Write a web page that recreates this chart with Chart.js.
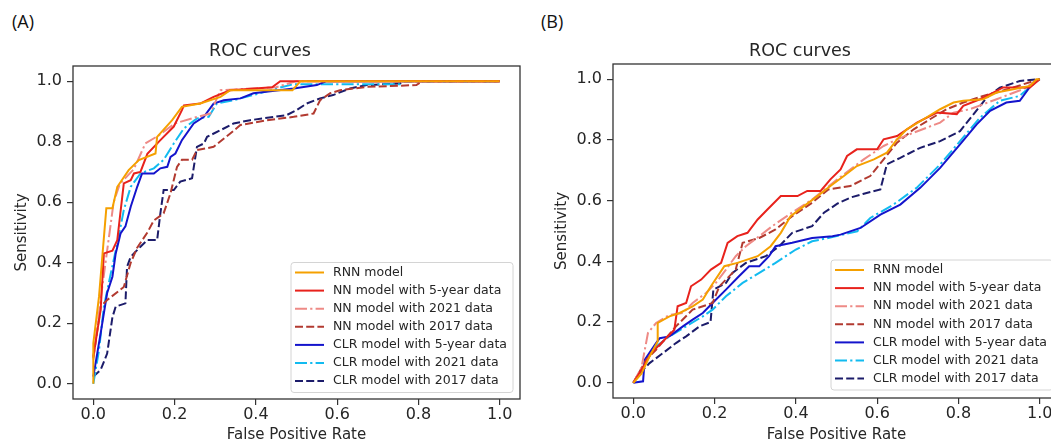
<!DOCTYPE html>
<html>
<head>
<meta charset="utf-8">
<script src="https://cdn.jsdelivr.net/npm/chart.js@4.4.1/dist/chart.umd.min.js"></script>
<style>
  html, body { margin: 0; padding: 0; background: #fff; overflow: hidden; width: 1051px; height: 441px; }
  canvas { position: absolute; top: 0; }
  #rocA { left: 0; }
  #rocB { left: 540px; }
  .tag { position: absolute; top: 9px; font-family: "Open Sans", sans-serif; font-size: 18px; color: #111; }
</style>
</head>
<body>
<div class="tag" style="left:12px">(A)</div>
<div class="tag" style="left:541px">(B)</div>
<canvas id="rocA" width="530" height="450"></canvas>
<canvas id="rocB" width="530" height="450"></canvas>
<script>
// ---- data ----
var seriesNames = [
  "RNN model",
  "NN model with 5-year data",
  "NN model with 2021 data",
  "NN model with 2017 data",
  "CLR model with 5-year data",
  "CLR model with 2021 data",
  "CLR model with 2017 data"
];
var tickVals = [0, 0.2, 0.4, 0.6, 0.8, 1.0];
var tickLabels = ["0.0", "0.2", "0.4", "0.6", "0.8", "1.0"];

// panel (A)
var a_rnn_x = [0, 0, 0.014, 0.032, 0.047, 0.059, 0.087, 0.112, 0.153, 0.157, 0.194, 0.218, 0.263, 0.313, 0.337, 0.49, 0.51, 1.0];
var a_rnn_y = [0, 0.134, 0.288, 0.58, 0.58, 0.651, 0.706, 0.739, 0.761, 0.816, 0.871, 0.915, 0.926, 0.948, 0.97, 0.97, 1.0, 1.0];
var a_nn5_x = [0, 0.018, 0.026, 0.047, 0.059, 0.075, 0.092, 0.1, 0.116, 0.133, 0.165, 0.198, 0.218, 0.223, 0.263, 0.296, 0.337, 0.44, 0.46, 1.0];
var a_nn5_y = [0.09, 0.244, 0.431, 0.44, 0.475, 0.662, 0.673, 0.695, 0.70, 0.76, 0.805, 0.85, 0.904, 0.92, 0.926, 0.948, 0.97, 0.98, 1.0, 1.0];
var a_nn21_x = [0, 0.02, 0.035, 0.05, 0.065, 0.1, 0.128, 0.16, 0.2, 0.25, 0.288, 0.313, 0.45, 0.5, 1.0];
var a_nn21_y = [0.08, 0.3, 0.45, 0.6, 0.66, 0.71, 0.794, 0.82, 0.86, 0.88, 0.893, 0.97, 0.98, 1.0, 1.0];
var a_nn17_x = [0, 0.018, 0.034, 0.075, 0.092, 0.108, 0.133, 0.149, 0.173, 0.19, 0.206, 0.218, 0.243, 0.255, 0.296, 0.337, 0.362, 0.427, 0.493, 0.542, 0.558, 0.583, 0.607, 0.673, 0.795, 0.81, 1.0];
var a_nn17_y = [0.085, 0.255, 0.277, 0.32, 0.40, 0.45, 0.50, 0.54, 0.563, 0.63, 0.717, 0.74, 0.74, 0.772, 0.783, 0.827, 0.855, 0.871, 0.882, 0.893, 0.937, 0.96, 0.97, 0.981, 0.987, 1.0, 1.0];
var a_clr5_x = [0, 0.018, 0.034, 0.047, 0.055, 0.067, 0.079, 0.092, 0.108, 0.12, 0.149, 0.165, 0.182, 0.19, 0.202, 0.218, 0.247, 0.272, 0.296, 0.321, 0.362, 0.394, 0.493, 0.55, 0.574, 1.0];
var a_clr5_y = [0.024, 0.167, 0.3, 0.354, 0.43, 0.497, 0.52, 0.585, 0.651, 0.695, 0.695, 0.712, 0.717, 0.75, 0.761, 0.805, 0.86, 0.882, 0.926, 0.937, 0.943, 0.96, 0.976, 0.987, 1.0, 1.0];
var a_clr21_x = [0, 0.014, 0.026, 0.043, 0.059, 0.075, 0.092, 0.116, 0.149, 0.173, 0.198, 0.223, 0.255, 0.284, 0.304, 0.345, 0.41, 0.452, 0.493, 0.755, 0.76, 1.0];
var a_clr21_y = [0, 0.112, 0.255, 0.365, 0.464, 0.574, 0.651, 0.695, 0.712, 0.74, 0.794, 0.844, 0.877, 0.882, 0.926, 0.937, 0.96, 0.976, 0.99, 0.99, 1.0, 1.0];
var a_clr17_x = [0, 0.018, 0.034, 0.047, 0.055, 0.079, 0.083, 0.092, 0.116, 0.133, 0.157, 0.165, 0.173, 0.198, 0.214, 0.243, 0.255, 0.272, 0.28, 0.313, 0.345, 0.386, 0.476, 0.5, 0.525, 0.558, 0.59, 0.632, 0.673, 0.754, 0.767, 1.0];
var a_clr17_y = [0.024, 0.046, 0.1, 0.22, 0.255, 0.266, 0.387, 0.42, 0.453, 0.475, 0.475, 0.563, 0.64, 0.64, 0.668, 0.679, 0.783, 0.794, 0.816, 0.838, 0.86, 0.871, 0.888, 0.904, 0.926, 0.943, 0.954, 0.976, 0.987, 0.992, 1.0, 1.0];

// panel (B)
var b_rnn_x = [0, 0.02, 0.04, 0.06, 0.06, 0.089, 0.114, 0.146, 0.171, 0.191, 0.224, 0.256, 0.306, 0.338, 0.363, 0.387, 0.42, 0.453, 0.485, 0.518, 0.55, 0.592, 0.624, 0.649, 0.673, 0.714, 0.755, 0.788, 0.812, 0.861, 0.894, 0.935, 0.976, 0.992, 1.0];
var b_rnn_y = [0, 0.03, 0.087, 0.136, 0.197, 0.219, 0.23, 0.252, 0.274, 0.318, 0.384, 0.395, 0.417, 0.45, 0.494, 0.549, 0.582, 0.615, 0.648, 0.681, 0.714, 0.736, 0.758, 0.802, 0.835, 0.868, 0.901, 0.923, 0.929, 0.934, 0.956, 0.967, 0.978, 1.0, 1.0];
var b_nn5_x = [0, 0.02, 0.044, 0.077, 0.101, 0.109, 0.13, 0.142, 0.167, 0.191, 0.216, 0.232, 0.256, 0.281, 0.306, 0.33, 0.363, 0.404, 0.428, 0.461, 0.485, 0.51, 0.526, 0.55, 0.6, 0.616, 0.649, 0.698, 0.747, 0.796, 0.812, 0.853, 0.886, 0.91, 0.976, 1.0];
var b_nn5_y = [0, 0.043, 0.098, 0.142, 0.175, 0.252, 0.263, 0.318, 0.34, 0.373, 0.395, 0.461, 0.483, 0.494, 0.538, 0.571, 0.615, 0.615, 0.632, 0.632, 0.67, 0.703, 0.747, 0.769, 0.769, 0.802, 0.813, 0.857, 0.89, 0.885, 0.912, 0.934, 0.956, 0.973, 0.973, 1.0];
var b_nn21_x = [0, 0.02, 0.036, 0.056, 0.089, 0.122, 0.146, 0.179, 0.203, 0.228, 0.252, 0.277, 0.31, 0.342, 0.391, 0.44, 0.502, 0.567, 0.616, 0.649, 0.69, 0.755, 0.788, 0.828, 0.894, 0.959, 1.0];
var b_nn21_y = [0, 0.05, 0.164, 0.197, 0.224, 0.23, 0.263, 0.296, 0.329, 0.373, 0.417, 0.45, 0.483, 0.516, 0.561, 0.604, 0.67, 0.736, 0.78, 0.802, 0.824, 0.857, 0.89, 0.901, 0.934, 0.967, 1.0];
var b_nn17_x = [0, 0.032, 0.056, 0.105, 0.146, 0.195, 0.212, 0.252, 0.269, 0.31, 0.35, 0.391, 0.44, 0.48, 0.534, 0.583, 0.616, 0.649, 0.69, 0.73, 0.771, 0.812, 0.861, 0.894, 0.935, 1.0];
var b_nn17_y = [0, 0.076, 0.109, 0.186, 0.241, 0.263, 0.318, 0.373, 0.461, 0.477, 0.505, 0.549, 0.593, 0.637, 0.648, 0.681, 0.736, 0.791, 0.835, 0.868, 0.901, 0.923, 0.945, 0.956, 0.973, 1.0];
var b_clr5_x = [0, 0.024, 0.028, 0.056, 0.065, 0.089, 0.122, 0.146, 0.171, 0.195, 0.228, 0.26, 0.285, 0.31, 0.334, 0.35, 0.391, 0.44, 0.49, 0.51, 0.559, 0.608, 0.657, 0.706, 0.755, 0.804, 0.845, 0.878, 0.918, 0.951, 0.984, 1.0];
var b_clr5_y = [0, 0.005, 0.076, 0.131, 0.147, 0.153, 0.186, 0.208, 0.23, 0.263, 0.307, 0.351, 0.384, 0.384, 0.417, 0.45, 0.461, 0.477, 0.483, 0.488, 0.51, 0.554, 0.587, 0.642, 0.708, 0.785, 0.851, 0.896, 0.923, 0.929, 0.989, 1.0];
var b_clr21_x = [0, 0.028, 0.056, 0.089, 0.13, 0.171, 0.195, 0.228, 0.269, 0.31, 0.35, 0.4, 0.44, 0.49, 0.551, 0.583, 0.64, 0.697, 0.755, 0.804, 0.853, 0.902, 0.951, 0.984, 1.0];
var b_clr21_y = [0, 0.065, 0.12, 0.153, 0.186, 0.219, 0.241, 0.285, 0.329, 0.362, 0.395, 0.439, 0.466, 0.48, 0.499, 0.543, 0.587, 0.642, 0.719, 0.796, 0.873, 0.929, 0.945, 0.983, 1.0];
var b_clr17_x = [0, 0.016, 0.04, 0.073, 0.105, 0.13, 0.163, 0.19, 0.197, 0.228, 0.244, 0.277, 0.326, 0.359, 0.391, 0.44, 0.469, 0.502, 0.534, 0.565, 0.608, 0.624, 0.657, 0.706, 0.755, 0.804, 0.837, 0.87, 0.902, 0.951, 1.0];
var b_clr17_y = [0, 0.032, 0.065, 0.098, 0.131, 0.153, 0.186, 0.2, 0.307, 0.329, 0.362, 0.395, 0.417, 0.45, 0.494, 0.516, 0.56, 0.59, 0.61, 0.622, 0.637, 0.72, 0.741, 0.774, 0.796, 0.829, 0.884, 0.94, 0.972, 0.994, 1.0];

// ---- styles ----
var lineColors = ["#F5A000", "#E8221C", "#EE8A86", "#B23A30", "#1414CC", "#12BBF0", "#1C1C6A"];
var lineDashes = [[], [], [12, 3.2, 2.2, 3.2], [8, 3.2], [], [12, 3.2, 2.2, 3.2], [8, 3.2]];
var FONT = "'DejaVu Sans', sans-serif";
var TEXT = "#262626";

function pts(xs, ys) {
  return xs.map(function (x, i) { return { x: x, y: ys[i] }; });
}

// box round the plot area
var frame = {
  id: "frame",
  afterDraw: function (chart) {
    var ctx = chart.ctx, a = chart.chartArea;
    ctx.save();
    ctx.strokeStyle = "#333";
    ctx.lineWidth = 1.3;
    ctx.strokeRect(a.left, a.top, a.right - a.left, a.bottom - a.top);
    ctx.restore();
  }
};

// legend in the lower right corner, like matplotlib's
var cornerLegend = {
  id: "cornerLegend",
  afterDatasetsDraw: function (chart, args, opts) {
    var ctx = chart.ctx, a = chart.chartArea;
    var w = 222, h = 130;
    var x0 = a.right - opts.gapRight - w, y0 = a.bottom - opts.gapBottom - h;
    ctx.save();
    ctx.beginPath();
    ctx.roundRect(x0, y0, w, h, 3);
    ctx.fillStyle = "rgba(255,255,255,0.85)";
    ctx.fill();
    ctx.strokeStyle = "#d4d4d4";
    ctx.lineWidth = 1;
    ctx.stroke();
    ctx.font = "12.5px " + FONT;
    ctx.textBaseline = "middle";
    chart.data.datasets.forEach(function (ds, i) {
      var yy = y0 + 10 + i * 18.1;
      ctx.strokeStyle = ds.borderColor;
      ctx.lineWidth = 2;
      ctx.setLineDash(ds.borderDash || []);
      ctx.beginPath();
      ctx.moveTo(x0 + 4, yy);
      ctx.lineTo(x0 + 33, yy);
      ctx.stroke();
      ctx.setLineDash([]);
      ctx.fillStyle = TEXT;
      ctx.fillText(ds.label, x0 + 42, yy);
    });
    ctx.restore();
  }
};

function axis(titleText, isX, size) {
  return {
    type: "linear",
    min: -0.05,
    max: 1.05,
    afterBuildTicks: function (s) {
      s.ticks = tickVals.map(function (v) { return { value: v }; });
    },
    afterFit: function (s) {
      if (isX) { s.height = size; } else { s.width = size; }
    },
    ticks: {
      font: { family: FONT, size: 16 },
      color: TEXT,
      padding: isX ? 0 : 5,
      callback: function (v, i) { return tickLabels[i]; }
    },
    grid: { display: true, drawOnChartArea: false, drawTicks: true, tickLength: 6, color: "#333", lineWidth: 1.2 },
    border: { display: false },
    title: {
      display: true,
      text: titleText,
      color: TEXT,
      font: { family: FONT, size: 15 },
      padding: isX ? { top: 0, bottom: 6 } : { top: 12.7, bottom: 0 }
    }
  };
}

function makeRoc(id, xsList, ysList, xAxisH, titleBottom, legendGap) {
  var datasets = seriesNames.map(function (name, i) {
    return {
      label: name,
      data: pts(xsList[i], ysList[i]),
      showLine: true,
      borderColor: lineColors[i],
      backgroundColor: lineColors[i],
      borderDash: lineDashes[i],
      borderWidth: 2,
      pointRadius: 0,
      tension: 0,
      fill: false
    };
  });
  return new Chart(document.getElementById(id), {
    type: "scatter",
    data: { datasets: datasets },
    options: {
      responsive: false,
      animation: false,
      layout: { padding: { left: 0, right: 10, top: 0, bottom: 0 } },
      plugins: {
        legend: { display: false },
        tooltip: { enabled: false },
        title: {
          display: true,
          text: "ROC curves",
          color: TEXT,
          font: { family: FONT, size: 17.5, weight: "normal" },
          padding: { top: 40.5, bottom: titleBottom }
        },
        cornerLegend: { gapRight: legendGap[0], gapBottom: legendGap[1] }
      },
      scales: {
        x: axis("False Positive Rate", true, xAxisH),
        y: axis("Sensitivity", false, 73)
      }
    },
    plugins: [frame, cornerLegend]
  });
}

makeRoc("rocA",
  [a_rnn_x, a_nn5_x, a_nn21_x, a_nn17_x, a_clr5_x, a_clr21_x, a_clr17_x],
  [a_rnn_y, a_nn5_y, a_nn21_y, a_nn17_y, a_clr5_y, a_clr21_y, a_clr17_y],
  51, 4.5, [7, 6.5]);

makeRoc("rocB",
  [b_rnn_x, b_nn5_x, b_nn21_x, b_nn17_x, b_clr5_x, b_clr21_x, b_clr17_x],
  [b_rnn_y, b_nn5_y, b_nn21_y, b_nn17_y, b_clr5_y, b_clr21_y, b_clr17_y],
  52, 2.5, [7, 8]);
</script>
</body>
</html>
